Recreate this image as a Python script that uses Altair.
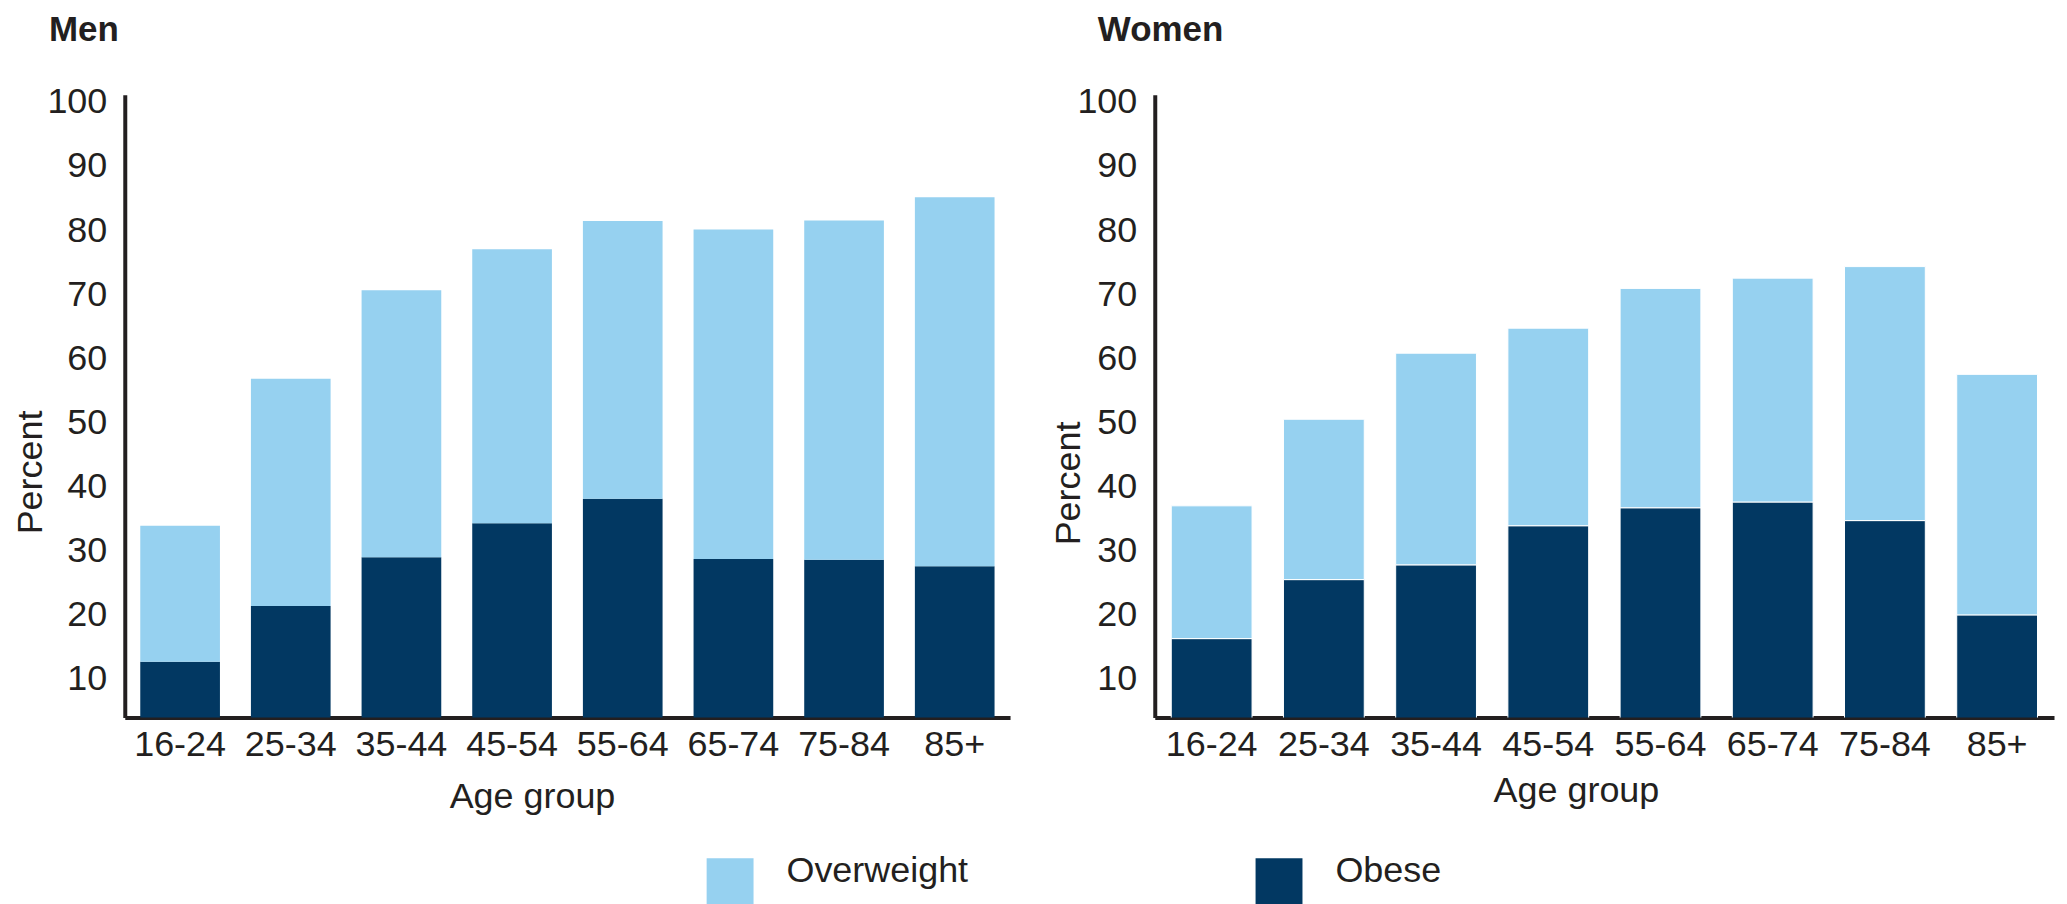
import altair as alt
import pandas as pd

FONT = "Liberation Sans"
TXT = "#231f20"

age_groups = ["16-24", "25-34", "35-44", "45-54", "55-64", "65-74", "75-84", "85+"]
categories = ["Overweight", "Obese"]
colors = ["#96D1F0", "#023862"]

men_obese = [12.7, 21.4, 29.0, 34.3, 38.1, 28.7, 28.6, 27.6]
men_overweight = [21.2, 35.4, 41.6, 42.7, 43.3, 51.4, 52.9, 57.5]
women_obese = [16.3, 25.5, 27.8, 33.9, 36.7, 37.6, 34.7, 20.0]
women_overweight = [20.7, 25.0, 33.0, 30.8, 34.2, 34.9, 39.6, 37.5]

y_ticks = [10, 20, 30, 40, 50, 60, 70, 80, 90, 100]


def make_df(obese, overweight):
    rows = []
    for a, ob, ov in zip(age_groups, obese, overweight):
        rows.append({"age": a, "category": "Obese", "value": ob, "ord": 0})
        rows.append({"age": a, "category": "Overweight", "value": ov, "ord": 1})
    return pd.DataFrame(rows)


legend = alt.Legend(
    title=None, orient="none", legendX=583, legendY=765, direction="horizontal",
    symbolType="square", symbolSize=2209, symbolStrokeWidth=0,
    labelFontSize=36, labelFont=FONT, labelColor=TXT, labelOffset=33,
    labelBaseline="alphabetic",
    columnPadding=287, labelLimit=600,
)


def panel(df, title, dx, width, pad_outer, ytx, yty, xtx, xty, mark_kw):
    return alt.Chart(df, title=alt.TitleParams(
        title, anchor="start", frame="group", dx=dx, fontSize=35, fontWeight="bold",
        font=FONT, color=TXT, baseline="alphabetic", offset=8,
    )).mark_bar(clip=True, **mark_kw).encode(
        x=alt.X("age:N", sort=age_groups,
                scale=alt.Scale(paddingInner=0.28, paddingOuter=pad_outer),
                axis=alt.Axis(title="Age group", labelAngle=0, labelPadding=10,
                              titleX=xtx, titleY=xty, titleBaseline="alphabetic",
                              titleAlign="center")),
        y=alt.Y("value:Q", stack="zero",
                scale=alt.Scale(domain=[4.0, 101.1], nice=False, zero=False),
                axis=alt.Axis(values=y_ticks, title="Percent", labelPadding=18,
                              titleX=ytx, titleY=yty, titleBaseline="alphabetic",
                              titleAlign="center", titleAngle=270)),
        color=alt.Color("category:N", scale=alt.Scale(domain=categories, range=colors),
                        legend=legend),
        order=alt.Order("ord:Q", sort="ascending"),
    ).properties(width=width, height=624)


men = panel(make_df(men_obese, men_overweight), "Men", -76, 887, 0.14,
            -83, 378, 408, 90, {})
women = panel(make_df(women_obese, women_overweight), "Women", -57, 901, 0.147,
              -75, 389, 422, 84, {"stroke": "white", "strokeWidth": 1})

chart = alt.hconcat(men, women, spacing=41).properties(
    padding={"left": 5, "top": 4, "right": 5, "bottom": 5}
).configure_view(stroke=None).configure_axis(
    grid=False, ticks=False, domainColor=TXT, domainWidth=4,
    labelFont=FONT, labelFontSize=36, labelColor=TXT,
    titleFont=FONT, titleFontSize=36, titleColor=TXT, titleFontWeight="normal",
)

chart.save("out.html", embed_options={"renderer": "svg", "actions": False})
